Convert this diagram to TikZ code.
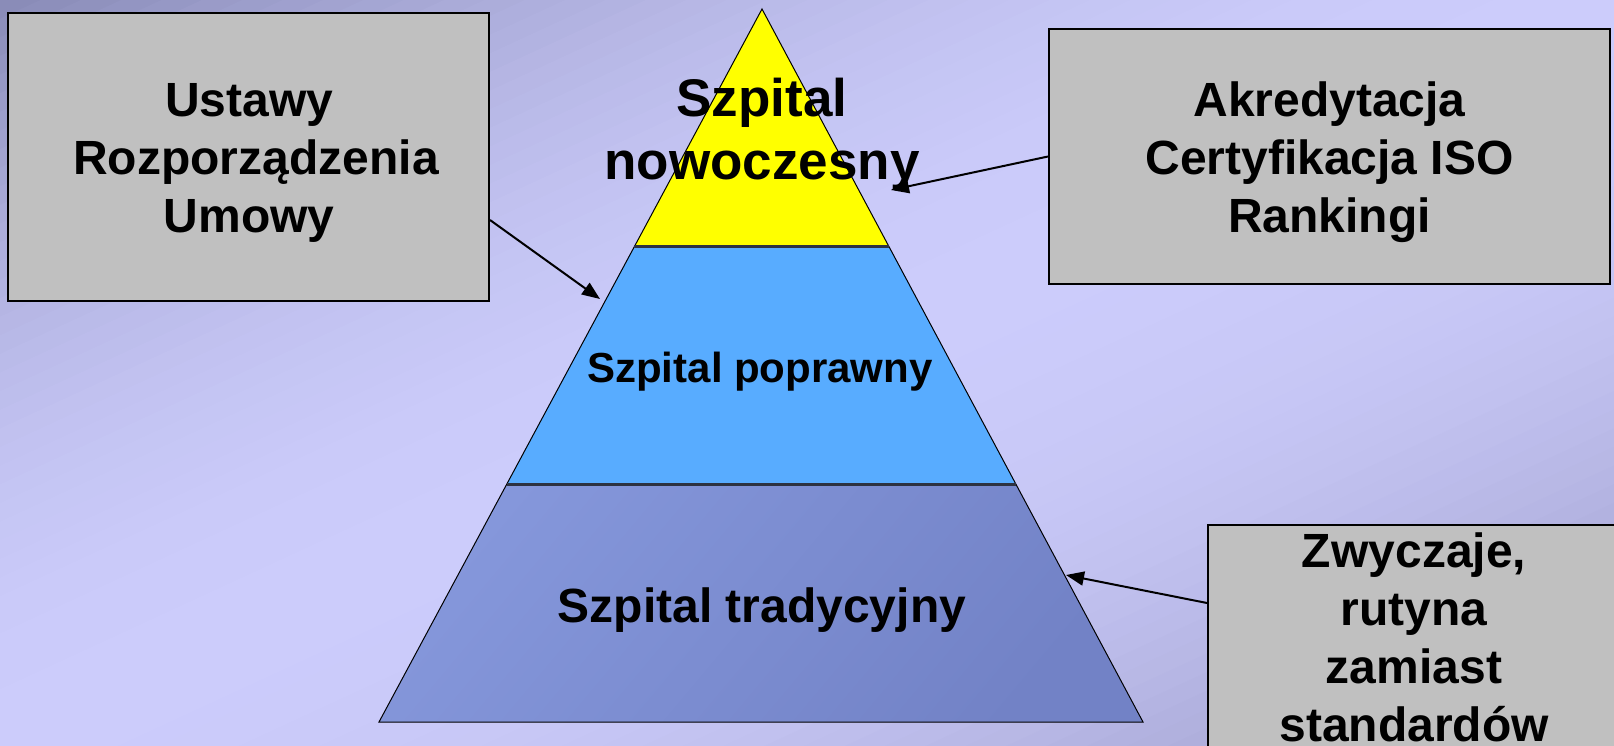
\documentclass[tikz,border=0pt]{standalone}
\usepackage{fontspec}
\setmainfont{Liberation Sans}
\usetikzlibrary{arrows.meta,calc}
\definecolor{bgTL}{RGB}{136,138,182}
\definecolor{bgMid}{RGB}{204,204,251}
\definecolor{bgBR}{RGB}{150,150,194}
\definecolor{boxgray}{RGB}{192,192,192}
\definecolor{pyrYellow}{RGB}{255,255,0}
\definecolor{pyrBlue}{RGB}{88,172,255}
\definecolor{trapA}{RGB}{133,151,219}
\definecolor{trapB}{RGB}{114,130,198}
\definecolor{divcol}{RGB}{45,50,65}
\tikzset{
  greybox/.style={draw=black, line width=2pt, fill=boxgray, rectangle, inner sep=0pt},
  boxtext/.style={font=\bfseries\fontsize{48}{58}\selectfont, align=center, inner sep=0pt},
  pyrtext/.style={font=\bfseries, inner sep=0pt},
  pointer/.style={draw=black, line width=2pt, -{Triangle[length=18pt,width=14pt]}},
  pyredge/.style={draw=black, line width=1pt},
  divider/.style={draw=divcol, line width=2.5pt}
}
\newcommand{\trsp}{\hspace*{0.278em}}
\begin{document}
\begin{tikzpicture}[x=1pt,y=-1pt]
\useasboundingbox (0,0) rectangle (1614,745);
\clip (0,0) rectangle (1614,745);
% diagonal background gradient: dark top-left, light along the anti-diagonal, darker bottom-right
\foreach \i in {0,...,79}{
  \pgfmathsetmacro{\sa}{\i/40}
  \pgfmathsetmacro{\sb}{(\i+1.3)/40}
  \pgfmathsetmacro{\sm}{(\i+0.5)/40}
  \pgfmathparse{\sm<1 ? 1 : 0}
  \ifnum\pgfmathresult=1
    \pgfmathsetmacro{\pc}{100*(1-(1-\sm)*(1-\sm))}
    \colorlet{stripcol}{bgMid!\pc!bgTL}
  \else
    \pgfmathsetmacro{\pc}{100*(\sm-1)*(\sm-1)}
    \colorlet{stripcol}{bgBR!\pc!bgMid}
  \fi
  \fill[stripcol] (\sa*1614,0) -- (\sb*1614,0) -- (0,\sb*745) -- (0,\sa*745) -- cycle;
}

% pyramid
\coordinate (A) at (762,9);
\coordinate (BL) at (379,722);
\coordinate (BR) at (1143,722);
\coordinate (L1) at ($(A)!1/3!(BL)$);
\coordinate (R1) at ($(A)!1/3!(BR)$);
\coordinate (L2) at ($(A)!2/3!(BL)$);
\coordinate (R2) at ($(A)!2/3!(BR)$);
\fill[pyrYellow] (A) -- (R1) -- (L1) -- cycle;
\fill[pyrBlue] (L1) -- (R1) -- (R2) -- (L2) -- cycle;
\shade[top color=trapA, bottom color=trapB, shading angle=50] (L2) -- (R2) -- (BR) -- (BL) -- cycle;
\draw[pyredge] (A) -- (BR) -- (BL) -- cycle;
\draw[divider] (L1) -- (R1);
\draw[divider] (L2) -- (R2);

\node[pyrtext, font=\bfseries\fontsize{53}{63}\selectfont, align=center] (top) at (762,134.5) {Szpital\\nowoczesny};
\node[pyrtext, font=\bfseries\fontsize{42}{50}\selectfont, anchor=base] (mid) at (760,382) {Szpital poprawny};
\node[pyrtext, font=\bfseries\fontsize{48}{58}\selectfont, anchor=base] (bot) at (762,622) {Szpital tradycyjny};

% boxes
\node[greybox, minimum width=481pt, minimum height=288pt] (box1) at (248.5,157) {};
\node[greybox, minimum width=561pt, minimum height=255pt] (box2) at (1329.5,156.5) {};
\node[greybox, minimum width=432pt, minimum height=275pt] (box3) at (1424,662.5) {};

\node[boxtext] (txt1) at (256,162.5) {Ustawy\trsp\\Rozporządzenia\\Umowy\trsp};
\node[boxtext] (txt2) at (1329.5,162.5) {Akredytacja\\Certyfikacja ISO\\Rankingi};
\node[boxtext] (txt3) at (1414,637.5) {Zwyczaje,\\rutyna\\zamiast\\standardów};

% arrows
\coordinate (s1) at ($(box1.north east)+(0,208)$);
\coordinate (e1) at (600,299);
\coordinate (e2) at (891,190);
\coordinate (s3) at ($(box3.north west)+(0,79)$);
\coordinate (e3) at (1066,575);
\draw[pointer] (s1) -- (e1);
\draw[pointer] (box2.west) -- (e2);
\draw[pointer] (s3) -- (e3);
\end{tikzpicture}
\end{document}
